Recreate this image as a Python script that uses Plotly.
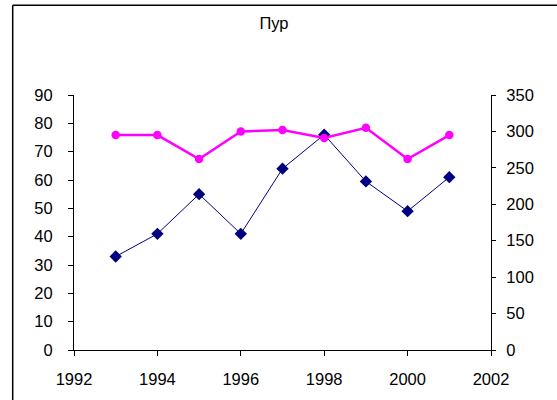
import plotly.graph_objects as go

years = [1993, 1994, 1995, 1996, 1997, 1998, 1999, 2000, 2001]
series_blue = [33, 41, 55, 41, 64, 76, 59.5, 49, 61]        # primary (left) axis
series_pink = [295, 295, 262, 300, 302, 291, 305, 262, 295]  # secondary (right) axis
title_text = "Пур"
x_ticks = [1992, 1994, 1996, 1998, 2000, 2002]
left_ticks = [0, 10, 20, 30, 40, 50, 60, 70, 80, 90]
right_ticks = [0, 50, 100, 150, 200, 250, 300, 350]

FONT = "Liberation Sans, Arial, sans-serif"
FS = 16.5

fig = go.Figure()
fig.add_trace(go.Scatter(
    x=years, y=series_pink, yaxis="y2", mode="lines+markers",
    line=dict(color="#FF00FF", width=2.5),
    marker=dict(symbol="circle", size=8.5, color="#FF00FF"),
    showlegend=False, cliponaxis=False))
fig.add_trace(go.Scatter(
    x=years, y=series_blue, yaxis="y", mode="lines+markers",
    line=dict(color="#000080", width=1),
    marker=dict(symbol="diamond", size=9.5, color="#000080"),
    showlegend=False, cliponaxis=False))

axis_common = dict(showgrid=False, zeroline=False, showline=True,
                   linecolor="#000000", linewidth=1, ticks="outside",
                   tickwidth=1, tickcolor="#000000",
                   tickfont=dict(family=FONT, size=FS, color="#000000"))

frame_left = (12.7 - 74) / 417
frame_top = (355 - 3.5) / 260

fig.update_layout(
    width=557, height=400,
    margin=dict(l=74, r=66, t=95, b=45),
    paper_bgcolor="white", plot_bgcolor="white",
    title=dict(text=title_text, x=(274 - 74) / 417, xref="paper",
               xanchor="center", y=1 - 23 / 400,
               yanchor="middle", font=dict(family=FONT, size=FS, color="#000000")),
    xaxis=dict(range=[1992, 2002], tickvals=x_ticks, ticklen=5,
               ticklabelstandoff=9, **axis_common),
    yaxis=dict(range=[0, 90], tickvals=left_ticks, ticklen=5,
               ticklabelstandoff=12, **axis_common),
    yaxis2=dict(range=[0, 350], tickvals=right_ticks, overlaying="y",
                side="right", ticklabelstandoff=7, ticklen=4, **axis_common),
    yaxis3=dict(range=[0, 350], tickvals=right_ticks, overlaying="y",
                side="right", showticklabels=False, showgrid=False,
                zeroline=False, showline=False, ticks="inside", ticklen=4,
                tickwidth=1, tickcolor="#000000"),
    shapes=[
        dict(type="line", xref="paper", yref="paper",
             x0=frame_left, x1=1.2, y0=frame_top, y1=frame_top,
             line=dict(color="#000000", width=1.5), layer="above"),
        dict(type="line", xref="paper", yref="paper",
             x0=frame_left, x1=frame_left, y0=-0.3, y1=frame_top,
             line=dict(color="#000000", width=1.5), layer="above"),
    ],
)

fig.write_html("out.html", config={"displayModeBar": False},
               post_script="document.body.style.margin='0';")
